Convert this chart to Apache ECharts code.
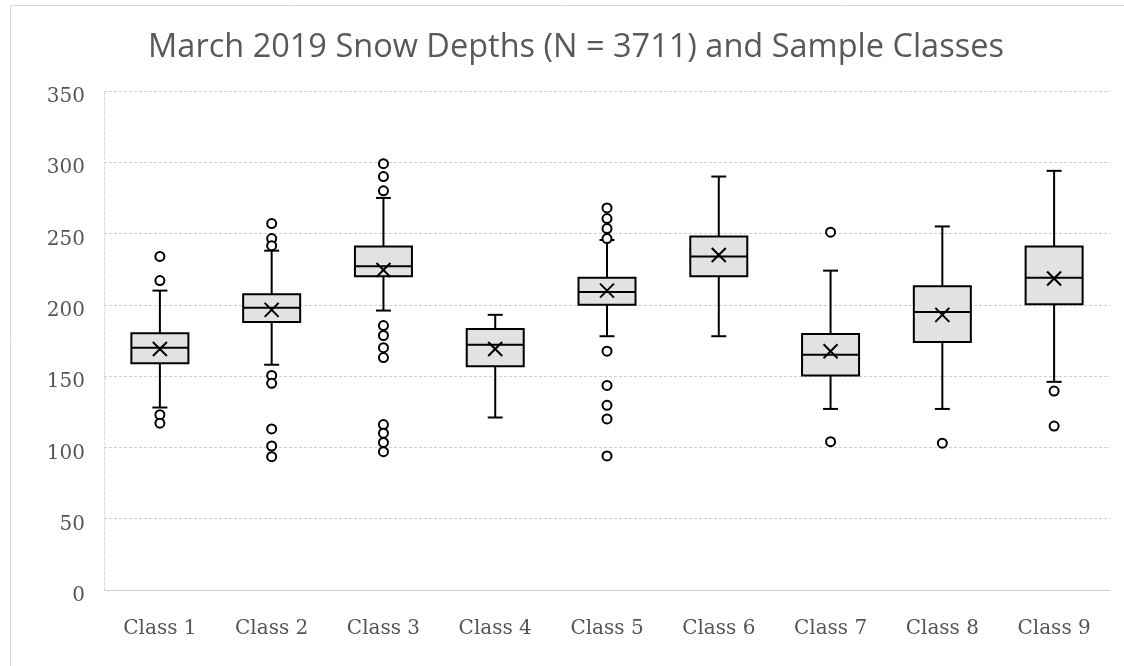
<!DOCTYPE html>
<html>
<head>
<meta charset="utf-8">
<script src="https://cdn.jsdelivr.net/npm/echarts@6/dist/echarts.min.js"></script>
<style>html,body{margin:0;padding:0;background:#fff}#c{width:1124px;height:666px}</style>
</head>
<body>
<div id="c"></div>
<script>
const categories = ['Class 1','Class 2','Class 3','Class 4','Class 5','Class 6','Class 7','Class 8','Class 9'];
const whiskerLow  = [128, 158, 196, 121, 178, 178, 127, 127, 146];
const q1          = [159, 188, 220, 157, 200, 220, 150.5, 174, 200.5];
const median      = [170, 198, 227, 172, 209, 234, 165, 195, 219];
const q3          = [180, 207.5, 241, 183, 219, 248, 179.5, 213, 241];
const whiskerHigh = [210, 238, 275, 193, 245.5, 290, 224, 255, 294];
const mean        = [169, 196.5, 224.5, 169, 210, 235, 167.5, 193, 218.5];
const outliers = [
  [0, 234], [0, 217], [0, 123], [0, 117],
  [1, 257], [1, 246.5], [1, 241.5], [1, 150.5], [1, 145], [1, 113], [1, 101], [1, 93.5],
  [2, 299], [2, 290], [2, 280], [2, 185.5], [2, 178.5], [2, 170], [2, 163], [2, 116], [2, 110], [2, 103.5], [2, 97],
  [4, 268], [4, 260.5], [4, 253.5], [4, 246.5], [4, 167.5], [4, 143.5], [4, 129.5], [4, 120], [4, 94],
  [6, 251], [6, 104],
  [7, 103],
  [8, 139.5], [8, 115]
];
const yTicks = {min: 0, max: 350, interval: 50};

const boxData = categories.map((c, i) => [i, whiskerLow[i], q1[i], median[i], q3[i], whiskerHigh[i], mean[i]]);

function renderBox(params, api) {
  const i = api.value(0);
  const x = api.coord([i, 0])[0];
  const y = v => api.coord([i, v])[1];
  const bw = api.size([1, 0])[0] * 0.51;
  const cap = 15;
  const mk = 7;
  const ls = {stroke: '#000', lineWidth: 2};
  const yMin = y(api.value(1)), yQ1 = y(api.value(2)), yMed = y(api.value(3)),
        yQ3 = y(api.value(4)), yMax = y(api.value(5)), yMean = y(api.value(6));
  return {
    type: 'group',
    children: [
      {type: 'line', shape: {x1: x, y1: yMax, x2: x, y2: yMin}, style: ls},
      {type: 'line', shape: {x1: x - cap/2, y1: yMax, x2: x + cap/2, y2: yMax}, style: ls},
      {type: 'line', shape: {x1: x - cap/2, y1: yMin, x2: x + cap/2, y2: yMin}, style: ls},
      {type: 'rect', shape: {x: x - bw/2, y: yQ3, width: bw, height: yQ1 - yQ3}, style: {fill: '#e2e2e2', stroke: '#000', lineWidth: 2}},
      {type: 'line', shape: {x1: x - bw/2, y1: yMed, x2: x + bw/2, y2: yMed}, style: ls},
      {type: 'line', shape: {x1: x - mk, y1: yMean - mk, x2: x + mk, y2: yMean + mk}, style: ls},
      {type: 'line', shape: {x1: x - mk, y1: yMean + mk, x2: x + mk, y2: yMean - mk}, style: ls}
    ]
  };
}

const chart = echarts.init(document.getElementById('c'), null, {renderer: 'canvas'});
chart.setOption({
  backgroundColor: '#fff',
  animation: false,
  title: {
    text: 'March 2019 Snow Depths (N = 3711) and Sample Classes',
    left: 571, top: 26, textAlign: 'center',
    textStyle: {fontFamily: 'Open Sans', fontWeight: 400, fontSize: 32.5, color: '#595959'}
  },
  graphic: [{
    type: 'rect', shape: {x: 10.5, y: 5.5, width: 1200, height: 700},
    style: {fill: 'none', stroke: '#d9d9d9', lineWidth: 1}, silent: true, z: -10
  }],
  grid: {left: 104, right: 14, top: 91, bottom: 76},
  xAxis: {
    type: 'category', data: categories,
    axisTick: {show: false},
    axisLine: {lineStyle: {color: '#d0d0d0', width: 1}},
    axisLabel: {fontFamily: 'DejaVu Serif', fontSize: 20, color: '#555555', margin: 29},
    splitLine: {show: false}
  },
  yAxis: {
    type: 'value', min: yTicks.min, max: yTicks.max, interval: yTicks.interval,
    axisLine: {show: true, lineStyle: {color: '#d9d9d9', type: [3, 2]}},
    axisTick: {show: false},
    axisLabel: {fontFamily: 'DejaVu Serif', fontSize: 20, color: '#555555', margin: 19,
                verticalAlign: 'top', lineHeight: 12},
    splitLine: {lineStyle: {color: '#cfcfcf', type: [3, 2], width: 1}}
  },
  series: [
    {type: 'custom', renderItem: renderBox, data: boxData, encode: {x: 0, y: [1,2,3,4,5]}, z: 2},
    {type: 'scatter', data: outliers, symbol: 'circle', symbolSize: 9,
     itemStyle: {color: '#fff', borderColor: '#000', borderWidth: 2, opacity: 1}, z: 3}
  ]
});
</script>
</body>
</html>
